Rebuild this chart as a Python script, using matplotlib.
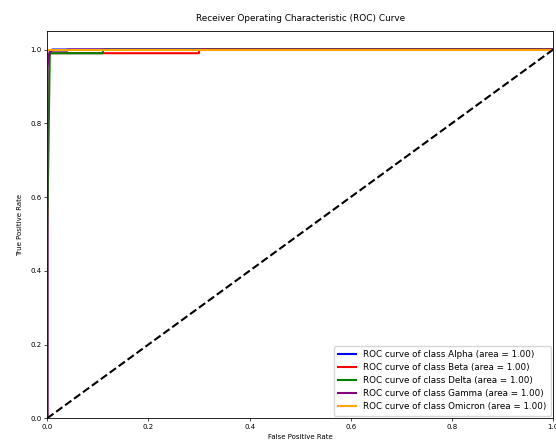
import matplotlib
matplotlib.use("Agg")
import matplotlib.pyplot as plt

classes = ["Alpha", "Beta", "Delta", "Gamma", "Omicron"]
colors = ["blue", "red", "green", "purple", "orange"]
aucs = [1.00, 1.00, 1.00, 1.00, 1.00]

fpr_alpha = [0.0, 0.0, 0.005, 0.01, 1.0]
tpr_alpha = [0.0, 0.97, 0.99, 1.0, 1.0]
fpr_beta = [0.0, 0.0, 0.005, 0.30, 0.30, 1.0]
tpr_beta = [0.0, 0.96, 0.99, 0.99, 1.0, 1.0]
fpr_delta = [0.0, 0.0, 0.005, 0.11, 0.11, 1.0]
tpr_delta = [0.0, 0.50, 0.99, 0.99, 1.0, 1.0]
fpr_gamma = [0.0, 0.0, 0.005, 0.04, 0.04, 1.0]
tpr_gamma = [0.0, 0.95, 0.997, 0.997, 1.0, 1.0]
fpr_omicron = [0.0, 0.0, 0.0, 0.005, 1.0]
tpr_omicron = [0.0, 0.30, 1.0, 1.0, 1.0]

fprs = [fpr_alpha, fpr_beta, fpr_delta, fpr_gamma, fpr_omicron]
tprs = [tpr_alpha, tpr_beta, tpr_delta, tpr_gamma, tpr_omicron]

fig = plt.figure(figsize=(5.56, 4.44), dpi=100)
ax = fig.add_axes([0.085, 0.058, 0.91, 0.872])
for name, c, a, f, t in zip(classes, colors, aucs, fprs, tprs):
    ax.plot(f, t, color=c, lw=1.5, label=f"ROC curve of class {name} (area = {a:.2f})")
ax.plot([0, 1], [0, 1], "k--", lw=1.5)
ax.set_xlim(0.0, 1.0)
ax.set_ylim(0.0, 1.05)
ax.set_xlabel("False Positive Rate", fontsize=5, labelpad=3)
ax.set_ylabel("True Positive Rate", fontsize=5, labelpad=5)
ax.set_title("Receiver Operating Characteristic (ROC) Curve", fontsize=6.4, pad=7)
ax.tick_params(labelsize=5, length=2, width=0.5, pad=2)
for s in ax.spines.values():
    s.set_linewidth(0.6)
ax.legend(loc="lower right", fontsize=6.3, handlelength=2.0, borderpad=0.5,
          labelspacing=0.45, borderaxespad=0.3)
fig.savefig("out.png", dpi=100)
